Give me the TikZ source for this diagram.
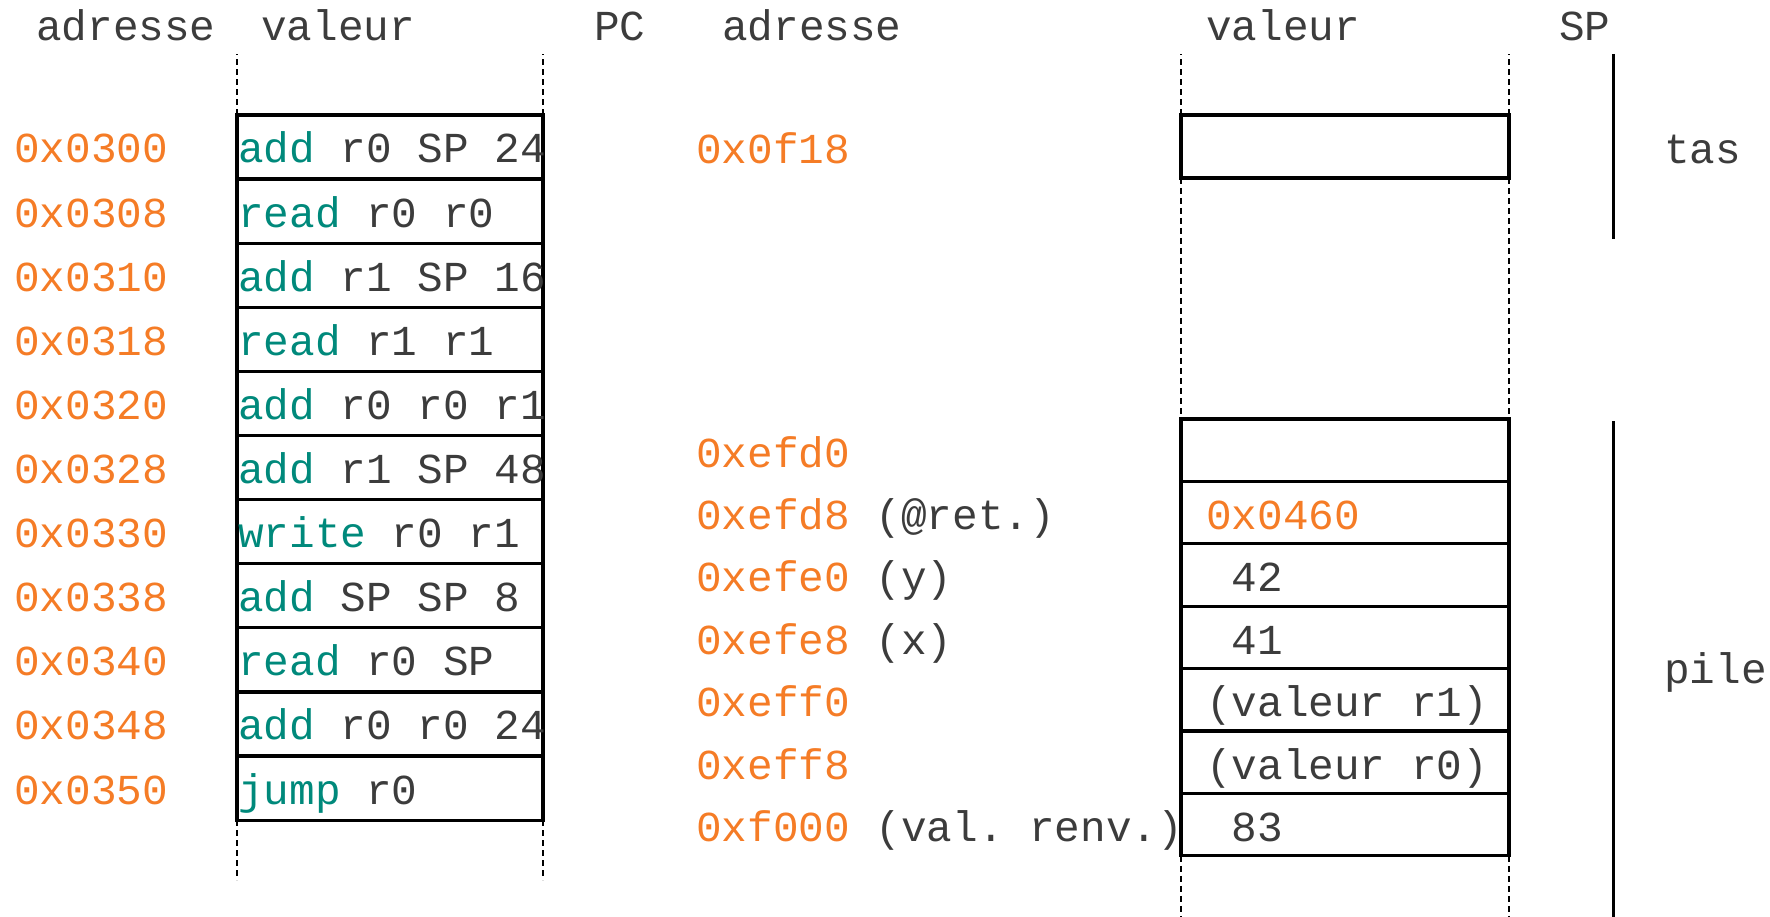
\documentclass[tikz,border=0pt]{standalone}
\usepackage{fontspec}
\setmonofont{Liberation Mono}
\definecolor{addr}{RGB}{245,124,38}
\definecolor{op}{RGB}{0,137,123}
\definecolor{txt}{RGB}{60,60,60}
\tikzset{
  lbl/.style={anchor=base west, inner sep=0pt, font=\ttfamily\frenchspacing\fontsize{42.7}{50}\selectfont, text=txt},
  hex/.style={lbl, text=addr},
  cell/.style={draw=black, line width=3.2pt, anchor=north west, inner sep=0pt, outer sep=0pt},
  guide/.style={line width=1.8pt, dash pattern=on 6pt off 4pt},
  sideline/.style={line width=3pt}
}
\begin{document}
\begin{tikzpicture}[x=1pt,y=-1pt]
\path[use as bounding box] (0,0) rectangle (1770,917);
% headers
\node[lbl] (h1) at (36,41) {adresse};
\node[lbl] (h2) at (261,41) {valeur};
\node[lbl] (h3) at (594,41) {PC};
\node[lbl] (h4) at (722,41) {adresse};
\node[lbl] (h5) at (1206,41) {valeur};
\node[lbl] (h6) at (1559,41) {SP};
% left column: code
\foreach \i/\a/\o/\r in {0/0x0300/add/r0 SP 24, 1/0x0308/read/r0 r0, 2/0x0310/add/r1 SP 16,
  3/0x0318/read/r1 r1, 4/0x0320/add/r0 r0 r1, 5/0x0328/add/r1 SP 48, 6/0x0330/write/r0 r1,
  7/0x0338/add/SP SP 8, 8/0x0340/read/r0 SP, 9/0x0348/add/r0 r0 24, 10/0x0350/jump/r0} {
  \node[cell, minimum width=306pt, minimum height=64.1pt] (L\i) at (237,{115+64.1*\i}) {};
  \node[hex] (A\i) at (14,{115+64.1*\i+48}) {\a};
  \node[lbl] (I\i) at (238,{115+64.1*\i+48}) {\textcolor{op}{\o} \r};
}
\draw[guide] (L0.north west) -- ++(0,-61);
\draw[guide] (L0.north east) -- ++(0,-61);
\draw[guide] (L10.south west) -- ++(0,60);
\draw[guide] (L10.south east) -- ++(0,60);
% right column: memory
\node[cell, minimum width=328pt, minimum height=63pt] (T0) at (1181,115) {};
\node[hex] (TA) at (696,164) {0x0f18};
\foreach \k in {0,...,6} {
  \node[cell, minimum width=328pt, minimum height=62.4pt] (S\k) at (1181,{419+62.4*\k}) {};
}
\node[hex] (SA0) at (696,{419+48}) {0xefd0};
\node[hex] (SA1) at (696,{419+62.4*1+48}) {0xefd8\ \textcolor{txt}{(@ret.)}};
\node[hex] (SA2) at (696,{419+62.4*2+48}) {0xefe0\ \textcolor{txt}{(y)}};
\node[hex] (SA3) at (696,{419+62.4*3+48}) {0xefe8\ \textcolor{txt}{(x)}};
\node[hex] (SA4) at (696,{419+62.4*4+48}) {0xeff0};
\node[hex] (SA5) at (696,{419+62.4*5+48}) {0xeff8};
\node[hex] (SA6) at (696,{419+62.4*6+48}) {0xf000\ \textcolor{txt}{(val. renv.)}};
\node[hex] (SV1) at (1206,{419+62.4*1+48}) {0x0460};
\node[lbl] (SV2) at (1231.6,{419+62.4*2+48}) {42};
\node[lbl] (SV3) at (1231.6,{419+62.4*3+48}) {41};
\node[lbl] (SV4) at (1206,{419+62.4*4+48}) {(valeur r1)};
\node[lbl] (SV5) at (1206,{419+62.4*5+48}) {(valeur r0)};
\node[lbl] (SV6) at (1231.6,{419+62.4*6+48}) {83};
\draw[guide] (T0.north west) -- ++(0,-61);
\draw[guide] (T0.north east) -- ++(0,-61);
\draw[guide] (T0.south west) -- (S0.north west);
\draw[guide] (T0.south east) -- (S0.north east);
\draw[guide] (S6.south west) -- ++(0,61);
\draw[guide] (S6.south east) -- ++(0,61);
% SP side
\coordinate (tasTop) at (1613,54);
\coordinate (tasBot) at (1613,239);
\coordinate (pileTop) at (1613,421);
\coordinate (pileBot) at (1613,917);
\draw[sideline] (tasTop) -- (tasBot);
\draw[sideline] (pileTop) -- (pileBot);
\node[lbl] (tas) at (1664,164) {tas};
\node[lbl] (pile) at (1664,683) {pile};
\end{tikzpicture}
\end{document}
